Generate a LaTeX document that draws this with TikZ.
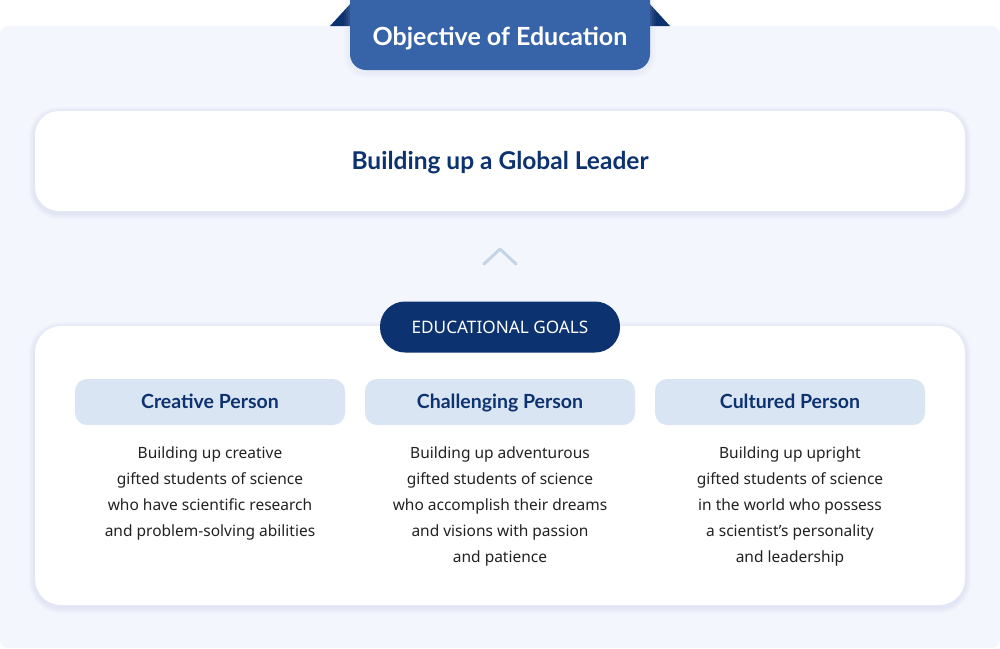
\documentclass[tikz,border=0pt]{standalone}
\usepackage{fontspec}
\setmainfont{Noto Sans}
\newfontfamily\headfont{Lato}
\definecolor{bgc}{HTML}{F3F6FC}
\definecolor{tabblue}{HTML}{3763A8}
\definecolor{navy}{HTML}{0D3270}
\definecolor{subfill}{HTML}{DAE5F3}
\definecolor{chev}{HTML}{C5D3E6}
\definecolor{bodytext}{HTML}{222222}
\definecolor{shadowc}{HTML}{C9CDEA}
\tikzset{
  card/.style={fill=white, rounded corners=24pt, inner sep=0pt},
  subhead/.style={fill=subfill, rounded corners=12pt, minimum width=270pt, minimum height=46pt, inner sep=0pt, text height=13pt, text depth=0pt, text=navy, font=\headfont\fontsize{19.5}{20}\selectfont\bfseries},
  bodytxt/.style={anchor=north, align=center, text=bodytext, inner sep=0pt, font=\fontsize{15.5}{26}\selectfont},
}
\begin{document}
\begin{tikzpicture}[x=1pt,y=-1pt]
\useasboundingbox (0,0) rectangle (1000,648);
\fill[white] (0,0) rectangle (1000,648);
\fill[bgc, rounded corners=8pt] (0,26) rectangle (1000,648);
% triangles
\fill[navy] (330,26) -- (352,2) -- (352,26) -- cycle;
\fill[navy] (670,26) -- (648,2) -- (648,26) -- cycle;
% tab shadow
\foreach \d/\o in {6/0.05,4/0.07,2/0.09}{
  \fill[shadowc, opacity=\o] (350-\d,0) -- (350-\d,56) arc[start angle=180,end angle=90,radius=16+\d] -- (634,72+\d) arc[start angle=90,end angle=0,radius=16+\d] -- (650+\d,0) -- cycle;
}
\fill[tabblue] (350,0) -- (350,54) arc[start angle=180,end angle=90,radius=16] -- (634,70) arc[start angle=90,end angle=0,radius=16] -- (650,0) -- cycle;
\node[text=white, font=\headfont\fontsize{25}{26}\selectfont\bfseries] (tab) at (500,38.5) {Objective of Education};
% card 1
\foreach \d/\o in {6/0.1,4/0.14,2/0.2}{
  \fill[shadowc, opacity=\o, rounded corners=24pt+\d pt] (35-\d,113-\d) rectangle (965+\d,213+\d);
}
\fill[card] (35,111) rectangle (965,211);
\node[text=navy, font=\headfont\fontsize{24.5}{26}\selectfont\bfseries] (leader) at (500,163) {Building up a Global Leader};
% chevron
\draw[chev, line width=3pt, line cap=round, line join=round] (484,264) -- (500,249) -- (516,264);
% card 2
\foreach \d/\o in {6/0.1,4/0.14,2/0.2}{
  \fill[shadowc, opacity=\o, rounded corners=26pt+\d pt] (35-\d,328-\d) rectangle (965+\d,607+\d);
}
\fill[card, rounded corners=26pt] (35,326) rectangle (965,605);
\node[fill=navy, text=white, rounded corners=25pt, minimum width=240pt, minimum height=51pt, inner sep=0pt, text height=12pt, text depth=0pt, font=\fontsize{17.2}{20}\selectfont] (goals) at (500,327) {EDUCATIONAL GOALS};
% subheads
\node[subhead] (h1) at (210,402) {Creative Person};
\node[subhead] (h2) at (500,402) {Challenging Person};
\node[subhead] (h3) at (790,402) {Cultured Person};
\node[bodytxt] (b1) at (210,447) {Building up creative\\gifted students of science\\who have scientific research\\and problem-solving abilities};
\node[bodytxt] (b2) at (500,447) {Building up adventurous\\gifted students of science\\who accomplish their dreams\\and visions with passion\\and patience};
\node[bodytxt] (b3) at (790,447) {Building up upright\\gifted students of science\\in the world who possess\\a scientist’s personality\\and leadership};
\end{tikzpicture}
\end{document}
